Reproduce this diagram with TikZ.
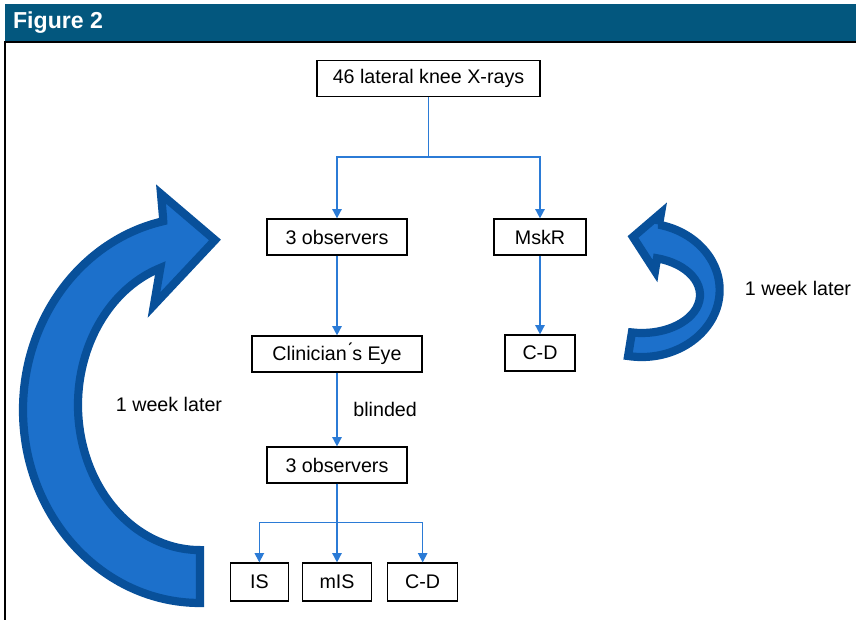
\documentclass[tikz,border=0pt]{standalone}
\usepackage{fontspec}
\setmainfont{Liberation Sans}
\usepackage{tikz}
\usetikzlibrary{arrows.meta, positioning}

\definecolor{headblue}{RGB}{3,87,126}
\definecolor{linkblue}{RGB}{43,123,214}
\definecolor{arrowfill}{RGB}{28,112,203}
\definecolor{arrowrim}{RGB}{8,80,154}

\begin{document}
\begin{tikzpicture}[x=0.03cm, y=0.03cm, auto]
        \tikzstyle{block} = [rectangle, draw, line width=1pt, minimum height=1.08cm,
            inner sep=2pt, font=\fontsize{16.8}{19}\selectfont]
        \tikzstyle{line} = [draw, linkblue, line width=1.4pt, -{Triangle[width=8pt,length=8pt]}]
        \tikzstyle{bigarrow} = [fill=arrowfill, draw=arrowrim, line width=7pt, line join=miter, miter limit=4]
        \tikzstyle{note} = [text=black, font=\fontsize{16.8}{19}\selectfont]

        \useasboundingbox (0,0) rectangle (856,620);
        % header bar and frame
        \fill[headblue] (5,578) rectangle (856,616);
        \draw[line width=1.2pt] (856,578) -- (5,578) -- (5,0);
        \node [anchor=west, text=white, font=\fontsize{19.7}{22}\selectfont\bfseries] (title) at (9,597) {Figure 2};

        \node [block, minimum width=6.69cm] (xrays) at (428.5,541.5) {46 lateral knee X-rays};
        \node [block, minimum width=4.2cm] (obsA) at (337,383) {3 observers};
        \node [block, minimum width=2.76cm] (mskr) at (540,383) {MskR};
        \node [block, minimum width=5.1cm, below of=obsA, node distance=3.51cm] (clinEye) {Clinician\'{}s Eye};
        \node [block, minimum width=2.1cm, below of=mskr, node distance=3.48cm] (cdA) {C-D};
        \node [block, minimum width=4.2cm, below of=clinEye, node distance=3.33cm] (obsB) {3 observers};
        \node [block, minimum width=2.07cm, minimum height=1.14cm, below of=obsB, node distance=3.51cm] (mis) {mIS};
        \node [block, minimum width=1.74cm, minimum height=1.14cm, left of=mis, node distance=2.33cm] (is) {IS};
        \node [block, minimum width=2.1cm, minimum height=1.14cm, right of=mis, node distance=2.57cm] (cdB) {C-D};

        \path [line] (xrays.south) -- ++(0,-60) -| (obsA.north);
        \path [line] (xrays.south) -- ++(0,-60) -| (mskr.north);
        \path [line] (obsA) -- (clinEye);
        \path [line] (mskr) -- (cdA);
        \path [line] (clinEye) -- node [note, xshift=0.35cm] (blind) {blinded} (obsB);
        \path [line] (obsB.south) -- ++(0,-39) -| (is.north);
        \path [line] (obsB.south) -- ++(0,-39) -| (mis.north);
        \path [line] (obsB.south) -- ++(0,-39) -| (cdB.north);

        % curved arrows
        \filldraw[bigarrow] (163,403) -- (161,426) -- (215,380) -- (154,315) -- (160.3,352)
            arc[start angle=109, end angle=270, x radius=122, y radius=145] -- (200,17)
            arc[start angle=270, end angle=102, x radius=177, y radius=193] -- cycle;
        \filldraw[bigarrow] (659,395.4) -- (661,407) -- (633,383) -- (655,349) -- (657,361.7)
            arc[start angle=75, end angle=-100, x radius=58, y radius=38] -- (628.1,264)
            arc[start angle=-100, end angle=77.4, x radius=78, y radius=67] -- cycle;

        \node [note] (weekL) at (169,216) {1 week later};
        \node [note] (weekR) at (798,332) {1 week later};
\end{tikzpicture}
\end{document}
